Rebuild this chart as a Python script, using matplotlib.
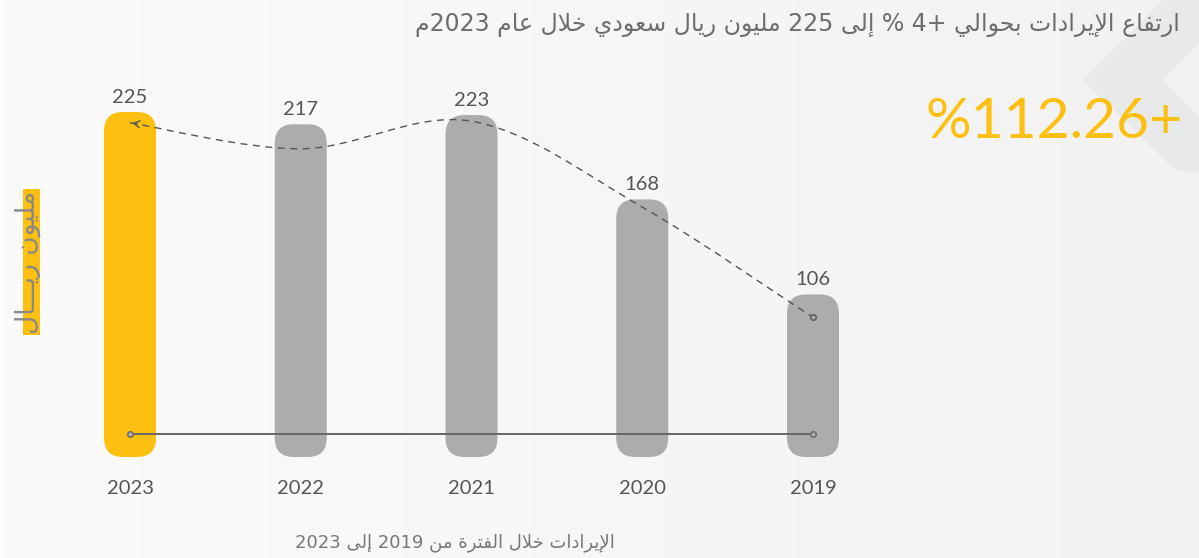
import re
import numpy as np
import matplotlib
matplotlib.use("Agg")
import matplotlib.pyplot as plt
from matplotlib.patches import FancyBboxPatch, PathPatch, Polygon, Rectangle
from matplotlib.path import Path

# data
years = ['2023', '2022', '2021', '2020', '2019']
values = [225, 217, 223, 168, 106]
trend = [218, 201, 219, 163, 91]   # dashed curve
base_line = 15

title = 'ارتفاع الإيرادات بحوالي +4 % إلى 225 مليون ريال سعودي خلال عام 2023م'
ylabel = 'مليون ريـــال'
xlabel = 'الإيرادات خلال الفترة من 2019 إلى 2023'
growth = '%112.26+'

YELLOW = '#FDC010'
GREY = '#ABACAB'

# --- minimal arabic shaping (matplotlib has no bidi / joining) ---
FORMS = {
    '\u0627': ('\uFE8D', '\uFE8E'), '\u0625': ('\uFE87', '\uFE88'),
    '\u062F': ('\uFEA9', '\uFEAA'), '\u0631': ('\uFEAD', '\uFEAE'),
    '\u0648': ('\uFEED', '\uFEEE'), '\u0629': ('\uFE93', '\uFE94'),
    '\u0649': ('\uFEEF', '\uFEF0'),
    '\u0628': ('\uFE8F', '\uFE90', '\uFE91', '\uFE92'),
    '\u062A': ('\uFE95', '\uFE96', '\uFE97', '\uFE98'),
    '\u062D': ('\uFEA1', '\uFEA2', '\uFEA3', '\uFEA4'),
    '\u062E': ('\uFEA5', '\uFEA6', '\uFEA7', '\uFEA8'),
    '\u0633': ('\uFEB1', '\uFEB2', '\uFEB3', '\uFEB4'),
    '\u0639': ('\uFEC9', '\uFECA', '\uFECB', '\uFECC'),
    '\u0641': ('\uFED1', '\uFED2', '\uFED3', '\uFED4'),
    '\u0644': ('\uFEDD', '\uFEDE', '\uFEDF', '\uFEE0'),
    '\u0645': ('\uFEE1', '\uFEE2', '\uFEE3', '\uFEE4'),
    '\u0646': ('\uFEE5', '\uFEE6', '\uFEE7', '\uFEE8'),
    '\u064A': ('\uFEF1', '\uFEF2', '\uFEF3', '\uFEF4'),
    '\u0640': ('\u0640',) * 4,
}
LAM_ALEF = {'\u0627': ('\uFEFB', '\uFEFC'), '\u0625': ('\uFEF9', '\uFEFA')}


def shape(s):
    chars = []
    i = 0
    while i < len(s):
        if s[i] == '\u0644' and i + 1 < len(s) and s[i + 1] in LAM_ALEF:
            chars.append(('LA', s[i + 1]))
            i += 2
        else:
            chars.append(s[i])
            i += 1
    out = []
    for k, c in enumerate(chars):
        prev = chars[k - 1] if k > 0 else None
        nxt = chars[k + 1] if k + 1 < len(chars) else None
        jp = isinstance(prev, str) and prev in FORMS and len(FORMS[prev]) == 4
        if isinstance(c, tuple):
            iso, fin = LAM_ALEF[c[1]]
            out.append(fin if jp else iso)
            continue
        if c not in FORMS:
            out.append(c)
            continue
        f = FORMS[c]
        jn = len(f) == 4 and nxt is not None and (isinstance(nxt, tuple) or nxt in FORMS)
        if jp and jn:
            out.append(f[3])
        elif jp:
            out.append(f[1])
        elif jn:
            out.append(f[2])
        else:
            out.append(f[0])
    return ''.join(out)


def ar(s):
    runs = re.findall(r'[0-9.]+|[^0-9.]+', shape(s))
    return ''.join(r if r[0].isdigit() else r[::-1] for r in reversed(runs))


W, H = 1199, 558
fig = plt.figure(figsize=(W / 100, H / 100), dpi=100)

# background
bg = fig.add_axes([0, 0, 1, 1], zorder=-1)
gx = np.linspace(0, 1, 200)
grad = np.outer(np.ones(50), gx)
bg.imshow(grad, cmap=matplotlib.colors.LinearSegmentedColormap.from_list('bg', ['#fafbfa', '#f2f2f2']),
          extent=[0, W, H, 0], aspect='auto')
bg.add_patch(Polygon([(1083, 80), (1163, 0), (W, 0), (W, 44), (1163, 80), (W, 116), (W, 172), (1175, 170)],
                     closed=True, facecolor='#e2e3e5', edgecolor='none', alpha=0.6))
bg.set_xlim(0, W)
bg.set_ylim(H, 0)
bg.axis('off')

# main axes: pixel layout
x0, x_step = 130, 170.75
y_base, y_top = 457, 60
px_per_unit = 345 / 225
ax = fig.add_axes([(x0 - x_step / 2) / W, (H - y_base) / H, 5 * x_step / W, (y_base - y_top) / H])
ax.set_xlim(-0.5, 4.5)
ax.set_ylim(0, (y_base - y_top) / px_per_unit)
ax.axis('off')

aspect = x_step / px_per_unit
bw = 52 / x_step
rad = 19 / x_step
xs = np.arange(len(years))
for i, (yr, v) in enumerate(zip(years, values)):
    col = YELLOW if i == 0 else GREY
    ax.add_patch(FancyBboxPatch((i - bw / 2, 0), bw, v,
                                boxstyle=f'round,pad=0,rounding_size={rad}',
                                mutation_aspect=aspect, facecolor=col, edgecolor='none', zorder=2))
    ax.annotate(str(v), (i, v), xytext=(0, 9), textcoords='offset pixels', ha='center', va='baseline',
                fontsize=14.5, color='#555555', family='Lato', zorder=5)
    ax.annotate(yr, (i, 0), xytext=(0, -37), textcoords='offset pixels', ha='center', va='baseline',
                fontsize=14.5, color='#555555', family='Lato', zorder=5)

# baseline with end circles
ax.plot([xs[0], xs[-1]], [base_line, base_line], color='#666666', lw=1.4, zorder=4)
ax.plot([xs[0], xs[-1]], [base_line, base_line], 'o', ms=4, mfc=GREY, mec='#666666', mew=1, zorder=4)

# dashed smooth curve (catmull-rom as bezier)
pts = np.column_stack([xs, trend]).astype(float)
P = np.vstack([pts[0], pts, pts[-1]])
verts = [tuple(pts[0])]
codes = [Path.MOVETO]
for k in range(1, len(P) - 2):
    c1 = P[k] + (P[k + 1] - P[k - 1]) / 6
    c2 = P[k + 1] - (P[k + 2] - P[k]) / 6
    verts += [tuple(c1), tuple(c2), tuple(P[k + 1])]
    codes += [Path.CURVE4] * 3
ax.add_patch(PathPatch(Path(verts, codes), fill=False, edgecolor='#555555', lw=1.0,
                       linestyle=(0, (5, 4)), zorder=4))
c1 = pts[0] + (pts[1] - pts[0]) / 6
ax.annotate('', xy=tuple(pts[0]), xytext=(pts[0][0] + 0.06, pts[0][1] + (c1[1] - pts[0][1]) * 0.06 / (c1[0] - pts[0][0])),
            arrowprops=dict(arrowstyle='->,head_length=0.4,head_width=0.25', color='#555555', lw=1.0), zorder=4)
ax.plot([pts[-1][0]], [pts[-1][1]], 'o', ms=4, mfc=GREY, mec='#555555', mew=1, zorder=4)

# texts
fig.text(1180 / W, 1 - 31 / H, ar(title), ha='right', va='baseline', fontsize=17,
         color='#6d6d6d', family='DejaVu Sans')
fig.text(1183 / W, 1 - 138 / H, growth, ha='right', va='baseline', fontsize=41,
         color=YELLOW, family='Lato')
fig.text(455 / W, 1 - 547 / H, ar(xlabel), ha='center', va='baseline', fontsize=13,
         color='#777777', family='DejaVu Sans')
fig.patches.append(Rectangle((23 / W, 1 - 335 / H), 17 / W, 146 / H, transform=fig.transFigure,
                             facecolor=YELLOW, edgecolor='none', zorder=1))
fig.text(28 / W, 1 - 262 / H, ar(ylabel), ha='center', va='center', rotation=90, fontsize=19,
         color='#888888', family='DejaVu Sans', zorder=3)

fig.savefig('out.png', dpi=100)
